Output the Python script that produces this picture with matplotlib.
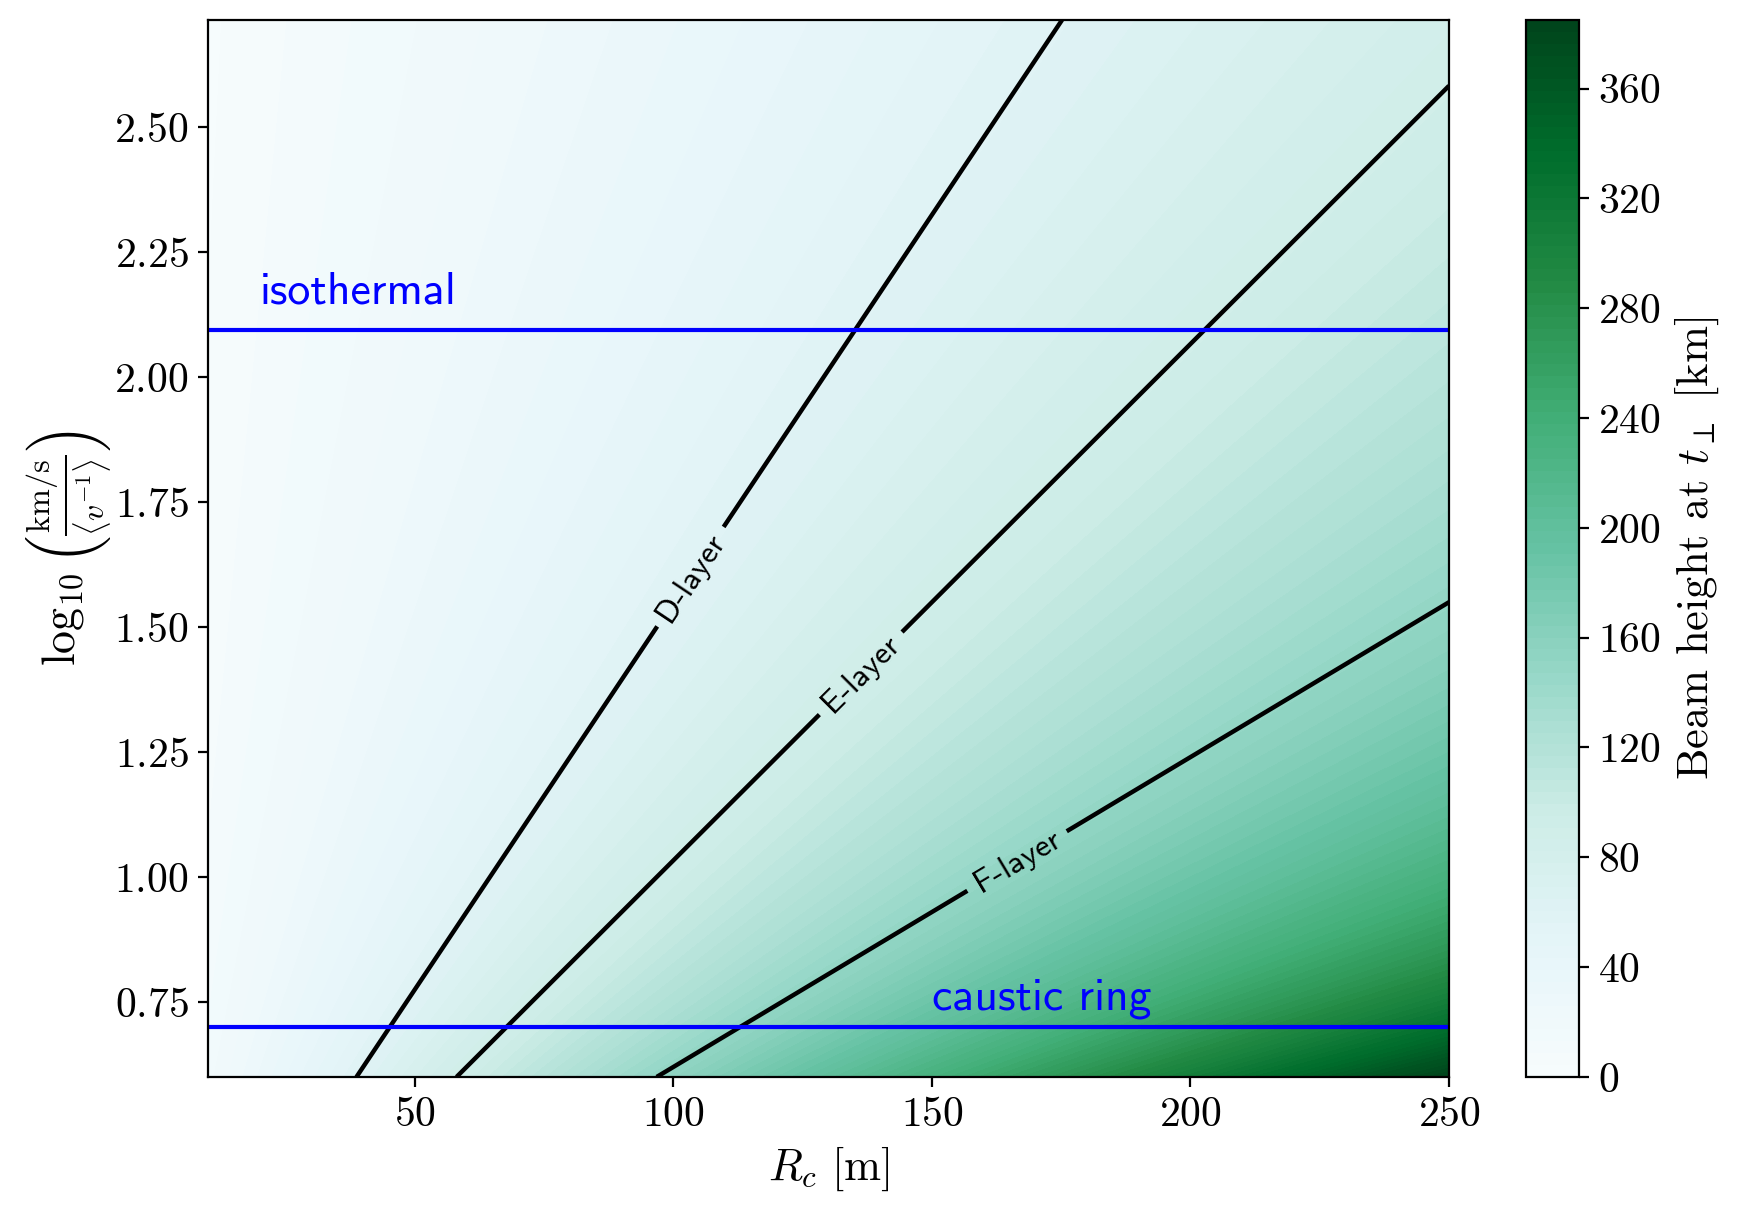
import numpy as np
import matplotlib
matplotlib.use("Agg")
import matplotlib.pyplot as plt

# ---- values ----
rc_range = [10, 250]                 # R_c [m]
logv_range = [0.6, 2.715]            # log10((km/s)/<v^-1>)
height_per_ratio = 0.93              # beam height [km] per (R_c / log10 v)
layer_levels = [60, 90, 150]         # km
layer_names = ["D-layer", "E-layer", "F-layer"]
label_positions = [(102, 1.61), (136, 1.41), (166, 1.04)]
isothermal_y = 2.095
caustic_y = 0.70
cbar_max = 385
cbar_ticks = [0, 40, 80, 120, 160, 200, 240, 280, 320, 360]
x_ticks = [50, 100, 150, 200, 250]
y_ticks = [0.75, 1.00, 1.25, 1.50, 1.75, 2.00, 2.25, 2.50]

plt.rcParams['font.family'] = ['cmr10', 'DejaVu Serif']
plt.rcParams['mathtext.fontset'] = 'cm'
plt.rcParams['axes.formatter.use_mathtext'] = True
plt.rcParams['axes.unicode_minus'] = False

fig = plt.figure(figsize=(8.785, 6.055), dpi=200)
ax = fig.add_axes([0.1184, 0.1107, 0.7063, 0.8728])
cax = fig.add_axes([0.8685, 0.1107, 0.0302, 0.8728])

R = np.linspace(rc_range[0], rc_range[1], 400)
Y = np.linspace(logv_range[0], logv_range[1], 400)
RR, YY = np.meshgrid(R, Y)
H = height_per_ratio * RR / YY
H_fill = np.clip(H, 0, cbar_max)

levels = np.linspace(0, cbar_max, 90)
cf = ax.contourf(RR, YY, H_fill, levels=levels, cmap='BuGn')
cs = ax.contour(RR, YY, H, levels=layer_levels, colors='black', linewidths=1.6)
fmt = {lev: name for lev, name in zip(layer_levels, layer_names)}
ax.clabel(cs, fmt=fmt, manual=label_positions, inline=True, fontsize=12,
          inline_spacing=6)
for t in cs.labelTexts:
    t.set_family('cmss10')

ax.axhline(isothermal_y, color='blue', lw=1.5)
ax.axhline(caustic_y, color='blue', lw=1.5)
ax.text(20, isothermal_y + 0.052, 'isothermal', color='blue', fontsize=16.5,
        family='cmss10', va='baseline')
ax.text(150, caustic_y + 0.035, 'caustic ring', color='blue', fontsize=16.5,
        family='cmss10', va='baseline')

ax.set_xlim(rc_range)
ax.set_ylim(logv_range)
ax.set_xticks(x_ticks)
ax.set_yticks(y_ticks)
ax.tick_params(labelsize=15)
ax.set_xlabel(r'$R_c\ [\mathrm{m}]$', fontsize=16)
ax.set_ylabel(r'$\log_{10}\left(\frac{\mathrm{km/s}}{\langle v^{-1}\rangle}\right)$',
              fontsize=16.5, labelpad=0)

cb = fig.colorbar(cf, cax=cax, ticks=cbar_ticks)
cb.ax.tick_params(labelsize=15)
cb.set_label(r'Beam height at $t_\perp$ [km]', fontsize=16)

fig.savefig('out.png', dpi=200)
